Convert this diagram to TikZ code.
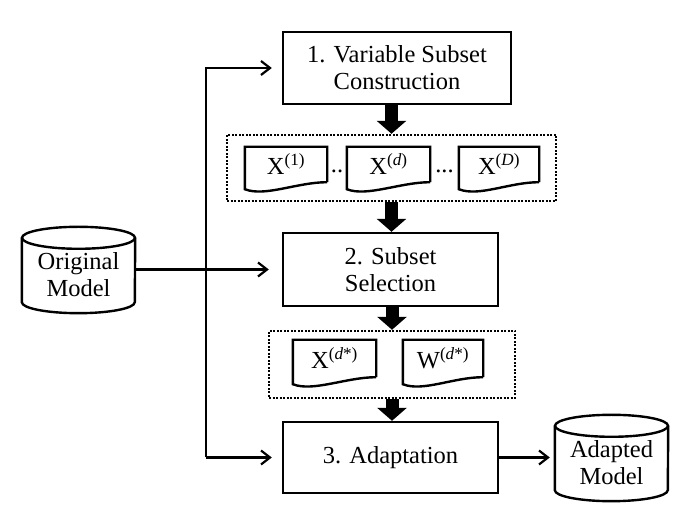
\documentclass[tikz,border=0pt]{standalone}
\usepackage{fontspec}
\setmainfont{Liberation Serif}
\usetikzlibrary{arrows.meta,calc}

\begin{document}
\begin{tikzpicture}[
  x=1pt, y=1pt,
  every node/.style={font=\fontsize{24.5}{27}\selectfont, align=center},
  stage/.style={draw, line width=2.4pt, minimum width=215pt, inner sep=0pt}, % process boxes
  group/.style={draw, line width=2.4pt, dash pattern=on 2pt off 1.5pt, inner sep=0pt},
  doc/.style={minimum height=35pt, inner sep=0pt},
  db/.style={minimum width=113pt, minimum height=74pt, inner sep=0pt},
  feed/.style={line width=2.2pt, -{Straight Barb[length=9pt,width=14pt]}},
  fat/.style={line width=13pt, -{Triangle[width=29pt,length=13pt]}}
]
  \useasboundingbox (0,0) rectangle (682,518);

  \node[stage, minimum width=228pt, minimum height=72pt] (box1) at (397,450) {1. Variable Subset\\Construction};
  \node[group, minimum width=329pt, minimum height=66pt] (dotA) at (391.5,350) {};
  \node[stage, minimum height=73pt] (box2) at (390.5,248.5) {2. Subset\\Selection};
  \node[group, minimum width=246pt, minimum height=67pt] (dotB) at (392,153.5) {};
  \node[stage, minimum height=71pt] (box3) at (390.5,60.5) {3. Adaptation};

  \node[db] (orig) at (78.5,243) {Original\\Model};
  \node[db] (adapted) at (611.5,55) {Adapted\\Model};

  % documents
  \node[doc, minimum width=82pt] (x1) at (286,353.5) {X\textsuperscript{(1)}};
  \node[doc, minimum width=83pt] (xd) at (388.5,353.5) {X\textsuperscript{(\textit{d})}};
  \node[doc, minimum width=80pt] (xD) at (499,353.5) {X\textsuperscript{(\textit{D})}};
  \node[anchor=base] (dots1) at ($(x1.east)!0.5!(xd.west)+(0,-8.5)$) {..};
  \node[anchor=base] (dots2) at ($(xd.east)!0.5!(xD.west)+(0,-8.5)$) {...};
  \node[doc, minimum width=83pt, minimum height=37pt] (xs) at (334.5,159.5) {X\textsuperscript{(\textit{d}*)}};
  \node[doc, minimum width=80pt, minimum height=37pt] (ws) at (443,159.5) {W\textsuperscript{(\textit{d}*)}};

  \foreach \d in {x1,xd,xD,xs,ws} {
    \draw[line width=2.4pt] (\d.south east) -- (\d.north east) -- (\d.north west)
      -- ([yshift=-7pt]\d.south west) .. controls +(20pt,-8pt) and +(-30pt,0pt) .. (\d.south east);
  }

  % cylinders
  \foreach \c in {orig,adapted} {
    \draw[line width=2.4pt] (\c.north west) -- ([yshift=10pt]\c.south west)
      arc[start angle=180, end angle=360, x radius=56.5pt, y radius=11pt] -- (\c.north east);
    \draw[line width=2.4pt] (\c.north) ellipse [x radius=56.5pt, y radius=11pt];
  }

  \coordinate (bus) at (206,0);

  \draw[fat] (dotA.north |- box1.south) -- (dotA.north);
  \draw[fat] (dotA.south) -- (dotA.south |- box2.north);
  \draw[fat] (dotB.north |- box2.south) -- (dotB.north);
  \draw[fat] (dotB.south) -- (dotB.south |- box3.north);

  \draw[feed, shorten >=10pt] (bus |- box3.west) -- (bus |- box1.west) -- (box1.west);
  \draw[feed, shorten >=10pt] (bus |- box3.west) -- (box3.west);
  \draw[feed, shorten >=13pt] (orig.east |- box2.west) -- (box2.west);
  \draw[feed, shorten >=5pt] (box3.east) -- (adapted.west |- box3.east);
\end{tikzpicture}
\end{document}
